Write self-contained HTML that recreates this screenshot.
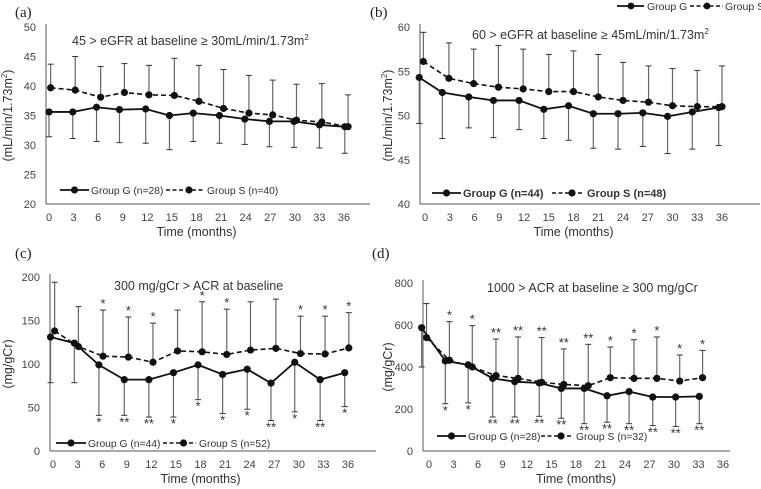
<!DOCTYPE html>
<html><head><meta charset="utf-8"><style>
body{margin:0;background:#fff;}
svg{display:block;font-family:"Liberation Sans",sans-serif;}
</style></head><body>
<svg id="c" width="761" height="489" viewBox="0 0 761 489"></svg>
<script>
const ticksX=[0,3,6,9,12,15,18,21,24,27,30,33,36];
// Panel a
const aTimesG=[0,2.9,5.8,8.6,11.8,14.7,17.6,20.8,23.9,26.9,29.9,33.0,36.1];
const aTimesS=[0.2,3.2,6.3,9.2,12.2,15.3,18.3,21.3,24.4,27.3,30.2,33.3,36.5];
const aG=[35.6,35.6,36.4,36.0,36.1,35.0,35.4,35.0,34.4,34.0,34.0,33.4,33.1];
const aS=[39.7,39.3,38.1,38.9,38.5,38.4,37.4,36.2,35.4,35.1,34.2,33.9,33.1];
const aSup=[43.7,45.0,43.3,43.8,43.5,44.7,43.5,42.8,41.8,41.0,40.3,40.4,38.5];
const aGlo=[31.4,31.1,30.6,30.4,30.3,29.2,30.6,30.3,30.1,29.7,29.6,29.5,28.6];
const aYTicks=[20,25,30,35,40,45,50];
// Panel b
const bTimesG=[-0.7,2.1,5.3,8.3,11.4,14.4,17.4,20.4,23.4,26.4,29.4,32.4,35.6];
const bTimesS=[-0.2,2.9,5.9,8.9,11.9,15,18,21,24,27.1,30,33,36];
const bG=[54.3,52.6,52.1,51.7,51.7,50.7,51.1,50.2,50.2,50.3,49.9,50.4,50.9];
const bS=[56.1,54.2,53.6,53.2,53.0,52.7,52.7,52.1,51.7,51.5,51.1,51.0,51.0];
const bSup=[59.4,58.2,57.5,57.9,57.5,56.9,57.3,56.9,56.0,55.6,55.3,55.1,55.6];
const bGlo=[49.1,47.4,48.6,47.5,48.4,47.4,47.2,46.3,46.2,46.5,45.7,46.2,46.6];
const bYTicks=[40,45,50,55,60];
// Panel c
const cTimesG=[-0.3,2.6,5.6,8.7,11.7,14.7,17.7,20.7,23.7,26.6,29.5,32.6,35.6];
const cTimesS=[0.2,3.1,6.1,9.2,12.2,15.2,18.2,21.2,24.1,27.2,30.2,33.2,36.1];
const cG=[131,124,99,82,82,90,99,88,94,78,102,82,90];
const cS=[138,120,109,108,102,115,114,111,116,118,112,111.5,118.5];
const cSup=[194,166,162,154,147,162,171.5,163,171.5,174.6,155,155,159];
const cGlo=[78.5,78.5,41,41,39,39,59,43,48,35,45,35,51];
const cStarUp=["","","*","*","*","","*","*","","","*","*","*"];
const cStarDn=["","","*","**","**","*","*","*","*","**","*","**","*"];
const cYTicks=[0,50,100,150,200];
// Panel d
const dTimesG=[-0.9,2,4.8,7.8,10.5,13.5,16.2,19,21.8,24.5,27.4,30.2,33.1];
const dTimesS=[-0.3,2.5,5.3,8.2,10.9,13.8,16.5,19.5,22.2,25.1,27.9,30.7,33.5];
const dG=[587,429,410,346,330,324,298,298,263,283,257,257,260];
const dS=[540,432,400,359,346,327,317,311,349,346,346,333,349];
const dSup=[702,616,597,533,543,540,486,508,495,530,543,457,479];
const dGlo=[400,225,229,162,162,165,156,130,137,130,121,117,130];
const dStarUp=["","*","*","**","**","**","**","**","*","*","*","*","*"];
const dStarDn=["","*","*","**","**","**","**","**","**","**","**","**","**"];
const dYTicks=[0,200,400,600,800];

const NS="http://www.w3.org/2000/svg";
const svg=document.getElementById('c');
function el(tag,attrs,parent,txt){const e=document.createElementNS(NS,tag);for(const k in attrs)e.setAttribute(k,attrs[k]);if(txt!==undefined)e.textContent=txt;(parent||svg).appendChild(e);return e;}

function panel(p){
  const g=el('g',{});
  
  
  const X=t=>p.x0+(t-0)*(p.x36-p.x0)/36;
  const Y=v=>p.yb+(v-p.ymin)*(p.yt-p.yb)/(p.ymax-p.ymin);
  const ya=el('line',{x1:p.ax,y1:p.yt-3,x2:p.ax,y2:p.yb,stroke:'#555','stroke-width':1},g);
  
  const xa=el('line',{x1:p.ax,y1:p.yb,x2:p.xend,y2:p.yb,stroke:'#555','stroke-width':1},g);
  
  p.yTicks.forEach(v=>{const t=el('text',{x:p.ax-10,y:Y(v)+4,'text-anchor':'end','font-size':11,fill:'#444'},g,String(v));
    });
  ticksX.forEach(v=>{const t=el('text',{x:X(v),y:p.yb+17,'text-anchor':'middle','font-size':11,fill:'#444'},g,String(v));
    });
  const xt=el('text',{x:(p.x0+p.x36)/2,y:p.yb+32,'text-anchor':'middle','font-size':12.5,fill:'#333'},g,'Time (months)');
  
  const yt=el('text',{x:0,y:0,'text-anchor':'middle','font-size':12.5,fill:'#333',transform:`translate(${p.ylx},${(p.yt+p.yb)/2}) rotate(-90)`},g);
  
  if(p.sup){yt.appendChild(document.createTextNode(p.yLabel));el('tspan',{'font-size':8,dy:-5},yt,'2');el('tspan',{dy:5},yt,')');}
  else yt.textContent=p.yLabel;
  const pl=el('text',{x:p.plx,y:p.ply,'font-family':'Liberation Serif,serif','font-size':15,fill:'#222'},g,p.plabel);
  
  const ti=el('text',{x:p.tx,y:p.ty,'font-size':12.5,fill:'#333'},g);
  
  ti.appendChild(document.createTextNode(p.title));
  if(p.titleSup){el('tspan',{'font-size':8,dy:-5},ti,'2');}
  p.S.forEach((v,i)=>{const x=X(p.tS[i]);
    const b=el('line',{x1:x,y1:Y(v),x2:x,y2:Y(p.Sup[i]),stroke:'#666','stroke-width':1.2},g);
    
    el('line',{x1:x-3,y1:Y(p.Sup[i]),x2:x+3,y2:Y(p.Sup[i]),stroke:'#333','stroke-width':1},g);
    if(p.starUp&&p.starUp[i]){const s=el('text',{x:x,y:Y(p.Sup[i])-2,'text-anchor':'middle','font-size':13,fill:'#333'},g,p.starUp[i]);
      }
  });
  p.G.forEach((v,i)=>{const x=X(p.tG[i]);
    const b=el('line',{x1:x,y1:Y(v),x2:x,y2:Y(p.Glo[i]),stroke:'#666','stroke-width':1.2},g);
    
    el('line',{x1:x-3,y1:Y(p.Glo[i]),x2:x+3,y2:Y(p.Glo[i]),stroke:'#333','stroke-width':1},g);
    if(p.starDn&&p.starDn[i]){const s=el('text',{x:x,y:Y(p.Glo[i])+11,'text-anchor':'middle','font-size':13,fill:'#333'},g,p.starDn[i]);
      }
  });
  const ls=el('polyline',{points:p.S.map((v,i)=>X(p.tS[i])+','+Y(v)).join(' '),fill:'none',stroke:'#111','stroke-width':1.6,'stroke-dasharray':'5,3'},g);
  
  const lg=el('polyline',{points:p.G.map((v,i)=>X(p.tG[i])+','+Y(v)).join(' '),fill:'none',stroke:'#111','stroke-width':1.8},g);
  
  p.S.forEach((v,i)=>{const c=el('circle',{cx:X(p.tS[i]),cy:Y(v),r:3.6,fill:'#111'},g);
    });
  p.G.forEach((v,i)=>{const c=el('circle',{cx:X(p.tG[i]),cy:Y(v),r:3.6,fill:'#111'},g);
    });
  const L=p.leg;
  const fs=L.bold?11:10.3;
  const lgG=el('g',{},g);
  el('rect',{x:L.g1-2,y:L.y-7,width:L.s1-L.g1-2,height:14,fill:'#fff'},lgG);
  el('line',{x1:L.g1,y1:L.y,x2:L.g2,y2:L.y,stroke:'#111','stroke-width':1.8},lgG);
  el('circle',{cx:(L.g1+L.g2)/2,cy:L.y,r:3.6,fill:'#111'},lgG);
  el('text',{x:L.g2+2,y:L.y+4,'font-size':fs,fill:'#333','font-weight':L.bold?'bold':'normal'},lgG,L.gt);
  const lgS=el('g',{},g);
  el('line',{x1:L.s1,y1:L.y,x2:L.s2,y2:L.y,stroke:'#111','stroke-width':1.6,'stroke-dasharray':'4,2.5'},lgS);
  el('circle',{cx:(L.s1+L.s2)/2+4,cy:L.y,r:3.6,fill:'#111'},lgS);
  el('text',{x:L.s2+3,y:L.y+4,'font-size':fs,fill:'#333','font-weight':L.bold?'bold':'normal'},lgS,L.st);
}

panel({id:'a',plabel:'(a)',plx:15,ply:17,ax:46,xend:370,x0:49,x36:344,yt:27,yb:204,ymin:20,ymax:50,yTicks:aYTicks,ylx:12,
  yLabel:'(mL/min/1.73m',sup:true,title:'45 > eGFR at baseline ≥ 30mL/min/1.73m',titleSup:true,tx:72,ty:45,
  tG:aTimesG,tS:aTimesS,G:aG,S:aS,Sup:aSup,Glo:aGlo,
  leg:{y:190,g1:60,g2:89,s1:166,s2:204,gt:'Group G (n=28)',st:'Group S (n=40)'}});
panel({id:'b',plabel:'(b)',plx:370,ply:17,ax:420,xend:760,x0:425,x36:722,yt:27,yb:204,ymin:40,ymax:60,yTicks:bYTicks,ylx:392,
  yLabel:'(mL/min/1.73m',sup:true,title:'60 > eGFR at baseline ≥ 45mL/min/1.73m',titleSup:true,tx:472,ty:39,
  tG:bTimesG,tS:bTimesS,G:bG,S:bS,Sup:bSup,Glo:bGlo,
  leg:{y:193,g1:432,g2:461,s1:552,s2:584,gt:'Group G (n=44)',st:'Group S (n=48)',bold:true}});
panel({id:'c',plabel:'(c)',plx:15,ply:258,ax:50,xend:376,x0:53,x36:348,yt:277,yb:451,ymin:0,ymax:200,yTicks:cYTicks,ylx:12,
  yLabel:'(mg/gCr)',sup:false,title:'300 mg/gCr > ACR at baseline',tx:114,ty:290,
  tG:cTimesG,tS:cTimesS,G:cG,S:cS,Sup:cSup,Glo:cGlo,starUp:cStarUp,starDn:cStarDn,
  leg:{y:443,g1:56,g2:86,s1:163,s2:196,gt:'Group G (n=44)',st:'Group S (n=52)'}});
panel({id:'d',plabel:'(d)',plx:372,ply:258,ax:423,xend:730,x0:429,x36:723,yt:283,yb:451,ymin:0,ymax:800,yTicks:dYTicks,ylx:392,
  yLabel:'(mg/gCr)',sup:false,title:'1000 > ACR at baseline ≥ 300 mg/gCr',tx:487,ty:292,
  tG:dTimesG,tS:dTimesS,G:dG,S:dS,Sup:dSup,Glo:dGlo,starUp:dStarUp,starDn:dStarDn,
  leg:{y:436,g1:437,g2:466,s1:541,s2:573,gt:'Group G (n=28)',st:'Group S (n=32)'}});

const tl=el('g',{});


el('line',{x1:617,y1:6,x2:644,y2:6,stroke:'#111','stroke-width':1.8},tl);
el('circle',{cx:631,cy:6,r:3.4,fill:'#111'},tl);
el('text',{x:647,y:10,'font-size':10.5,fill:'#333'},tl,'Group G');
el('line',{x1:690,y1:6,x2:723,y2:6,stroke:'#111','stroke-width':1.6,'stroke-dasharray':'4,2.5'},tl);
el('circle',{cx:707,cy:6,r:3.4,fill:'#111'},tl);
el('text',{x:725,y:10,'font-size':10.5,fill:'#333'},tl,'Group S');
</script>
</body></html>
